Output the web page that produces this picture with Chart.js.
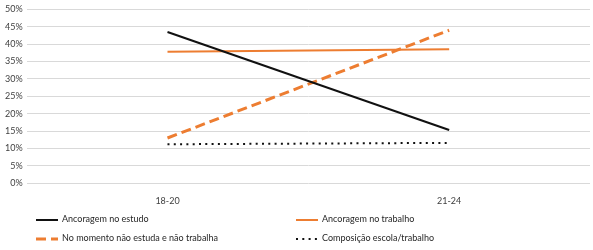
<!DOCTYPE html>
<html>
<head>
<meta charset="utf-8">
<script src="https://cdn.jsdelivr.net/npm/chart.js@4"></script>
<style>
  body { margin: 0; background: #fff; font-family: Lato, 'Open Sans', sans-serif; }
  #wrap { position: relative; width: 593px; height: 250px; overflow: hidden; }
  #chartBox { position: absolute; left: 0; top: 0; width: 593px; height: 218px; }
  #legend { position: absolute; left: 0; top: 210px; width: 593px; }
  .item { position: absolute; font-size: 9px; color: #262626; line-height: 12px; white-space: nowrap; }
  .item canvas { vertical-align: middle; margin-right: 4px; }
</style>
</head>
<body>
<div id="wrap">
  <div id="chartBox"><canvas id="myChart"></canvas></div>
  <div id="legend"></div>
</div>
<script>
'use strict';

// data
let ageGroups = ['18-20', '21-24'];
let ancoragemEstudo = [43.5, 15.3];
let ancoragemTrabalho = [37.8, 38.5];
let semEstudoTrabalho = [13.0, 44.0];
let composicao = [11.2, 11.6];
let yTicks = [0, 5, 10, 15, 20, 25, 30, 35, 40, 45, 50];

const orange = '#ED7D31';
const ctx = document.getElementById('myChart');

let seriesList = [
  { label: 'Ancoragem no estudo', data: ancoragemEstudo, color: '#111111', width: 2, dash: [] },
  { label: 'Ancoragem no trabalho', data: ancoragemTrabalho, color: orange, width: 2, dash: [] },
  { label: 'No momento não estuda e não trabalha', data: semEstudoTrabalho, color: orange, width: 3, dash: [10, 5] },
  { label: 'Composição escola/trabalho', data: composicao, color: '#111111', width: 2, dash: [2, 4.3] }
];

let myChartObj = {
  type: 'line',
  data: {
    labels: ageGroups,
    datasets: seriesList.map(function (s) {
      return {
        label: s.label,
        data: s.data,
        borderColor: s.color,
        backgroundColor: s.color,
        borderWidth: s.width,
        borderDash: s.dash,
        pointRadius: 0,
        tension: 0
      };
    })
  },
  options: {
    responsive: true,
    maintainAspectRatio: false,
    animation: false,
    layout: { padding: { top: 0, right: 3, left: 1, bottom: 0 } },
    plugins: { legend: { display: false }, tooltip: { enabled: false } },
    scales: {
      x: {
        offset: true,
        grid: { display: false, drawTicks: false },
        border: { display: false },
        ticks: { color: '#404040', font: { family: 'Lato', size: 9 }, padding: 12 }
      },
      y: {
        min: 0,
        max: 50,
        afterBuildTicks: function (axis) {
          axis.ticks = yTicks.map(function (v) { return { value: v }; });
        },
        grid: { color: '#d9d9d9', lineWidth: 1, drawTicks: false },
        border: { display: false },
        ticks: {
          color: '#404040',
          font: { family: 'Lato', size: 9 },
          padding: 4,
          callback: function (v) { return v + '%'; }
        }
      }
    }
  }
};

new Chart(ctx, myChartObj);

// legend in two columns
let legendBox = document.getElementById('legend');
let spots = [[36, 3], [296, 3], [36, 22], [296, 22]];
seriesList.forEach(function (s, i) {
  let item = document.createElement('div');
  item.className = 'item';
  item.style.left = spots[i][0] + 'px';
  item.style.top = spots[i][1] + 'px';
  let c = document.createElement('canvas');
  c.width = 22; c.height = 8;
  let g = c.getContext('2d');
  g.strokeStyle = s.color;
  g.lineWidth = s.width;
  g.setLineDash(s.dash);
  g.beginPath(); g.moveTo(0, 4); g.lineTo(22, 4); g.stroke();
  item.appendChild(c);
  item.appendChild(document.createTextNode(s.label));
  legendBox.appendChild(item);
});
</script>
</body>
</html>
